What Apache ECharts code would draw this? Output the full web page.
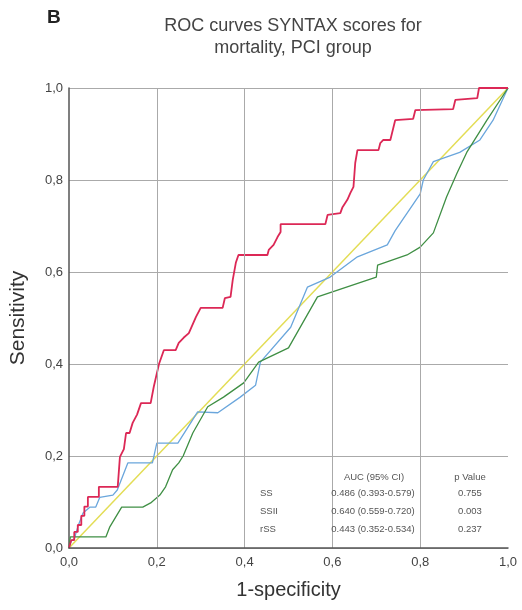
<!DOCTYPE html>
<html>
<head>
<meta charset="utf-8">
<script src="https://cdn.jsdelivr.net/npm/echarts@6/dist/echarts.min.js"></script>
<style>
  html, body { margin: 0; padding: 0; background: #fff; }
  #chart { width: 522px; height: 610px; }
</style>
</head>
<body>
<div id="chart"></div>
<script>
// tick positions; vertical grid lines only at the inner ones
const tickValues = [0, 0.2, 0.4, 0.6, 0.8, 1.0]
const innerTicks = [0.2, 0.4, 0.6, 0.8]

// ROC points [1-specificity, sensitivity]
const ssiiPoints = [
  [0, 0], [0.005, 0.017], [0.012, 0.017], [0.012, 0.035], [0.02, 0.035], [0.02, 0.05],
  [0.028, 0.05], [0.028, 0.07], [0.035, 0.07], [0.035, 0.09], [0.043, 0.09], [0.043, 0.111],
  [0.068, 0.111], [0.068, 0.133], [0.111, 0.133], [0.116, 0.198], [0.125, 0.215], [0.13, 0.25],
  [0.138, 0.25], [0.145, 0.272], [0.155, 0.29], [0.164, 0.315], [0.186, 0.315], [0.193, 0.35],
  [0.205, 0.40], [0.216, 0.43], [0.243, 0.43], [0.25, 0.446], [0.261, 0.457], [0.273, 0.467],
  [0.289, 0.502], [0.30, 0.522], [0.35, 0.522], [0.355, 0.543], [0.368, 0.546], [0.373, 0.583],
  [0.38, 0.62], [0.386, 0.637], [0.452, 0.637], [0.455, 0.648], [0.466, 0.659], [0.475, 0.676],
  [0.482, 0.687], [0.482, 0.704], [0.584, 0.704], [0.589, 0.724], [0.618, 0.728], [0.623, 0.741],
  [0.634, 0.757], [0.641, 0.772], [0.648, 0.785], [0.652, 0.837], [0.657, 0.865], [0.705, 0.865],
  [0.709, 0.88], [0.716, 0.887], [0.732, 0.887], [0.743, 0.93], [0.784, 0.933], [0.789, 0.952],
  [0.875, 0.954], [0.88, 0.974], [0.93, 0.978], [0.934, 1], [1, 1]
]
const ssPoints = [
  [0, 0], [0.005, 0.015], [0.012, 0.02], [0.02, 0.046], [0.032, 0.076], [0.048, 0.089],
  [0.061, 0.089], [0.07, 0.11], [0.1, 0.115], [0.11, 0.126], [0.134, 0.185], [0.19, 0.185],
  [0.2, 0.228], [0.248, 0.228], [0.293, 0.296], [0.339, 0.294], [0.39, 0.328], [0.425, 0.354],
  [0.436, 0.404], [0.505, 0.48], [0.543, 0.567], [0.595, 0.589], [0.657, 0.633], [0.725, 0.659],
  [0.743, 0.69], [0.8, 0.77], [0.807, 0.8], [0.83, 0.84], [0.89, 0.86], [0.936, 0.887],
  [0.966, 0.93], [1, 1]
]
const rssPoints = [
  [0, 0], [0.003, 0.024], [0.084, 0.024], [0.093, 0.046], [0.12, 0.089], [0.168, 0.089],
  [0.186, 0.098], [0.207, 0.115], [0.22, 0.133], [0.236, 0.17], [0.25, 0.185], [0.26, 0.2],
  [0.282, 0.25], [0.316, 0.307], [0.352, 0.328], [0.398, 0.359], [0.432, 0.404], [0.50, 0.435],
  [0.566, 0.546], [0.70, 0.589], [0.703, 0.615], [0.77, 0.637], [0.80, 0.654], [0.83, 0.685],
  [0.86, 0.763], [0.884, 0.815], [0.906, 0.86], [0.952, 0.93], [1, 1]
]
const refPoints = [[0, 0], [1, 1]]

// AUC table
const tableNames = ['SS', 'SSII', 'rSS']
const tableAuc = ['0.486 (0.393-0.579)', '0.640 (0.559-0.720)', '0.443 (0.352-0.534)']
const tablePValues = ['0.755', '0.003', '0.237']

const FONT = '"Liberation Sans", Arial, sans-serif'
const TABLE_FONT = '9.5px ' + FONT
const chart = echarts.init(document.getElementById('chart'))

// 表格文字 (white box hides the grid lines behind the table)
const tableGraphics = [
  { type: 'rect', z: 5, shape: { x: 250, y: 457.5, width: 258, height: 89 }, style: { fill: '#fff' } },
  { type: 'text', z: 6, x: 374, y: 472, style: { text: 'AUC (95% CI)', font: TABLE_FONT, fill: '#555', textAlign: 'center' } },
  { type: 'text', z: 6, x: 470, y: 472, style: { text: 'p Value', font: TABLE_FONT, fill: '#555', textAlign: 'center' } }
]
tableNames.forEach((name, i) => {
  const y = 488 + i * 18
  tableGraphics.push({ type: 'text', z: 6, x: 260, y: y, style: { text: name, font: TABLE_FONT, fill: '#555' } })
  tableGraphics.push({ type: 'text', z: 6, x: 373, y: y, style: { text: tableAuc[i], font: TABLE_FONT, fill: '#555', textAlign: 'center' } })
  tableGraphics.push({ type: 'text', z: 6, x: 470, y: y, style: { text: tablePValues[i], font: TABLE_FONT, fill: '#555', textAlign: 'center' } })
})

const labelFmt = v => v.toFixed(1).replace('.', ',')

const option = {
  animation: false,
  backgroundColor: '#fff',
  title: [
    {
      text: 'ROC curves SYNTAX scores for\nmortality, PCI group',
      left: 288,
      top: 10,
      textAlign: 'center',
      textStyle: { fontFamily: FONT, fontSize: 18, fontWeight: 'normal', color: '#444', lineHeight: 22 }
    },
    {
      text: 'B',
      left: 42,
      top: 3,
      textStyle: { fontFamily: FONT, fontSize: 19, fontWeight: 'bold', color: '#222' }
    }
  ],
  grid: { left: 68, right: 14, top: 88, bottom: 62, containLabel: false },
  xAxis: {
    type: 'value',
    min: 0, max: 1, interval: 0.2,
    name: '1-specificity',
    nameLocation: 'middle',
    nameGap: 32,
    nameTextStyle: { fontFamily: FONT, fontSize: 20, color: '#333' },
    axisLine: { show: true, lineStyle: { color: '#555', width: 1.5 } },
    axisTick: { show: false },
    axisLabel: { margin: 8, fontFamily: FONT, fontSize: 13, color: '#444', formatter: labelFmt },
    splitLine: { show: false },
    z: 10
  },
  yAxis: {
    type: 'value',
    min: 0, max: 1, interval: 0.2,
    name: 'Sensitivity',
    nameLocation: 'middle',
    nameGap: 40,
    nameTextStyle: { fontFamily: FONT, fontSize: 21, color: '#333' },
    axisLine: { show: true, lineStyle: { color: '#555', width: 1.5 } },
    axisTick: { show: false },
    axisLabel: { margin: 6, fontFamily: FONT, fontSize: 13, color: '#444', formatter: labelFmt },
    splitLine: { show: true, lineStyle: { color: '#aaa', width: 1 } }
  },
  graphic: tableGraphics,
  series: [
    {
      name: 'Reference', type: 'line', data: refPoints, symbol: 'none',
      lineStyle: { color: '#e3dd55', width: 1.5 },
      // vertical grid lines at inner ticks
      markLine: {
        silent: true,
        symbol: 'none',
        label: { show: false },
        lineStyle: { color: '#aaa', width: 1, type: 'solid' },
        data: innerTicks.map(v => ({ xAxis: v }))
      },
      z: 1
    },
    {
      name: 'SS', type: 'line', data: ssPoints, symbol: 'none',
      lineStyle: { color: '#6aa6dc', width: 1.3 }
    },
    {
      name: 'rSS', type: 'line', data: rssPoints, symbol: 'none',
      lineStyle: { color: '#3f8f44', width: 1.3 }
    },
    {
      name: 'SSII', type: 'line', data: ssiiPoints, symbol: 'none',
      lineStyle: { color: '#dc2856', width: 1.8 }
    }
  ]
}

chart.setOption(option)
</script>
</body>
</html>
